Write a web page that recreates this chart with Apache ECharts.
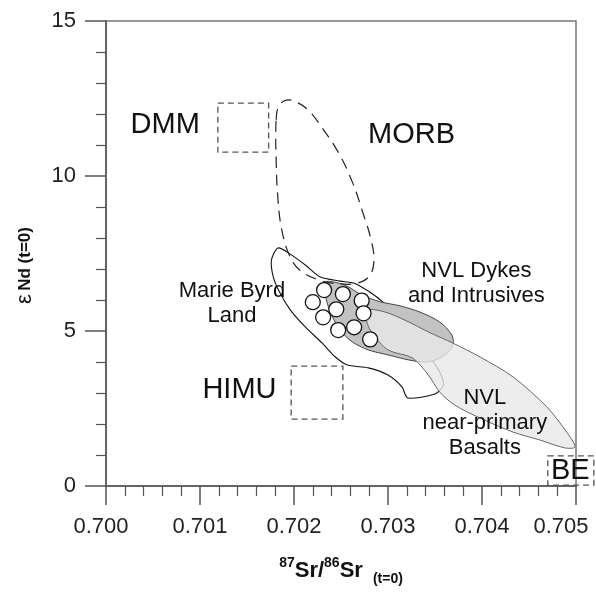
<!DOCTYPE html>
<html>
<head>
<meta charset="utf-8">
<script src="https://cdn.jsdelivr.net/npm/echarts@6/dist/echarts.min.js"></script>
<style>
  html, body { margin: 0; padding: 0; background: #fff; }
  #chart { width: 596px; height: 593px; }
</style>
</head>
<body>
<div id="chart"></div>
<script>
// NVL samples: [87Sr/86Sr, eNd]
const nvlSamples = [
  [0.70232, 6.32], [0.70252, 6.19], [0.70220, 5.93], [0.70272, 5.98], [0.70245, 5.70],
  [0.70231, 5.44], [0.70274, 5.57], [0.70247, 5.03], [0.70264, 5.12], [0.70281, 4.73]
]

// field outlines
const morbField = [
  [0.70181, 11.81], [0.70184, 12.26], [0.70192, 12.45], [0.70202, 12.39], [0.70215, 12.13],
  [0.70230, 11.55], [0.70247, 10.77], [0.70262, 9.81], [0.70273, 8.84], [0.70282, 7.94],
  [0.70285, 7.23], [0.70280, 6.77], [0.70268, 6.55], [0.70249, 6.52], [0.70226, 6.65],
  [0.70206, 6.97], [0.70195, 7.45], [0.70187, 8.26], [0.70183, 9.23], [0.70181, 10.52]
]
const marieByrdField = [
  [0.70183, 7.68], [0.70196, 7.48], [0.70212, 7.13], [0.70228, 6.74], [0.70249, 6.61],
  [0.70266, 6.52], [0.70292, 6.00], [0.70318, 5.19], [0.70339, 4.39], [0.70355, 3.68],
  [0.70359, 3.26], [0.70350, 2.97], [0.70321, 2.84], [0.70315, 3.19], [0.70300, 3.58],
  [0.70279, 3.81], [0.70257, 3.90], [0.70244, 4.16], [0.70230, 4.61], [0.70212, 5.13],
  [0.70196, 5.68], [0.70185, 6.23], [0.70178, 6.74], [0.70176, 7.29]
]
const dykesField = [
  [0.70233, 6.58], [0.70254, 6.48], [0.70272, 6.16], [0.70292, 5.94], [0.70313, 5.81],
  [0.70334, 5.61], [0.70355, 5.29], [0.70368, 4.87], [0.70369, 4.55], [0.70361, 4.23],
  [0.70343, 4.00], [0.70323, 4.06], [0.70300, 4.23], [0.70279, 4.39], [0.70262, 4.65],
  [0.70249, 5.03], [0.70240, 5.52], [0.70234, 6.06]
]
const basaltField = [
  [0.70278, 5.68], [0.70297, 5.61], [0.70318, 5.35], [0.70345, 4.94], [0.70369, 4.61],
  [0.70398, 4.16], [0.70433, 3.52], [0.70469, 2.55], [0.70490, 1.74], [0.70499, 1.26],
  [0.70488, 1.23], [0.70462, 1.48], [0.70433, 1.74], [0.70398, 2.19], [0.70371, 2.61],
  [0.70355, 3.03], [0.70343, 3.58], [0.70326, 4.13], [0.70300, 4.39], [0.70283, 4.94],
  [0.70277, 5.35]
]

// end-member boxes: [xMin, yMin, xMax, yMax]
const endMemberBoxes = [
  [0.70119, 10.77, 0.70173, 12.35],
  [0.70197, 2.16, 0.70252, 3.87],
  [0.70470, 0.03, 0.70519, 0.97]
]

// labels: [text, x, y]
const bigLabels = [
  ['DMM', 0.70063, 11.65],
  ['MORB', 0.70325, 11.32],
  ['HIMU', 0.70142, 3.10],
  ['BE', 0.70494, 0.48]
]
const smallLabels = [
  ['Marie Byrd\nLand', 0.70134, 5.90],
  ['NVL Dykes\nand Intrusives', 0.70394, 6.52],
  ['NVL\nnear-primary\nBasalts', 0.70403, 2.03]
]

const font = 'Liberation Sans, Arial, sans-serif'

function fieldSeries(pts, style, smooth, z) {
  return {
    type: 'custom',
    coordinateSystem: 'cartesian2d',
    silent: true,
    z: z,
    data: pts,
    encode: { x: 0, y: 1 },
    renderItem: function (params, api) {
      if (params.dataIndex !== 0) return
      return {
        type: 'polygon',
        shape: { points: pts.map(p => api.coord(p)), smooth: smooth },
        style: style
      }
    }
  }
}

function labelSeries(list, size, lineHeight) {
  return {
    type: 'scatter',
    symbolSize: 0,
    silent: true,
    z: 10,
    itemStyle: { opacity: 1 },
    data: list.map(l => ({ name: l[0], value: [l[1], l[2]] })),
    label: {
      show: true,
      position: 'inside',
      formatter: '{b}',
      fontFamily: font,
      fontSize: size,
      lineHeight: lineHeight,
      color: '#111',
      opacity: 1,
      align: 'center'
    }
  }
}

const chart = echarts.init(document.getElementById('chart'))

chart.setOption({
  animation: false,
  grid: {
    left: 106,
    right: 20,
    top: 21,
    bottom: 107,
    show: true,
    borderColor: '#777',
    borderWidth: 1.5,
    outerBoundsMode: 'none'
  },
  xAxis: {
    type: 'value',
    min: 0.700,
    max: 0.705,
    interval: 0.001,
    name: '{sup|87}{b|Sr/}{sup|86}{b|Sr}{sub|(t=0)}',
    nameLocation: 'middle',
    nameGap: 70,
    nameTextStyle: {
      rich: {
        b: { fontFamily: font, fontWeight: 'bold', fontSize: 22, color: '#111', lineHeight: 30 },
        sup: { fontFamily: font, fontWeight: 'bold', fontSize: 14, color: '#111', verticalAlign: 'top', lineHeight: 30 },
        sub: { fontFamily: font, fontWeight: 'bold', fontSize: 14, color: '#111', verticalAlign: 'bottom', lineHeight: 26, padding: [0, 0, 0, 10] }
      }
    },
    axisLine: { lineStyle: { color: '#555', width: 1.5 } },
    axisTick: { length: 19, lineStyle: { color: '#555', width: 1.5 } },
    minorTick: { show: true, splitNumber: 5, length: 10, lineStyle: { color: '#555', width: 1.2 } },
    splitLine: { show: false },
    axisLabel: {
      margin: 30,
      fontFamily: font,
      fontSize: 22,
      color: '#222',
      formatter: function (v) {
        const s = v.toFixed(3)
        if (s === '0.705') return '{last|' + s + '}'
        if (s === '0.700') return '{first|' + s + '}'
        return s
      },
      rich: {
        last: { fontFamily: font, fontSize: 22, color: '#222', padding: [0, 30, 0, 0] },
        first: { fontFamily: font, fontSize: 22, color: '#222', padding: [0, 10, 0, 0] }
      }
    }
  },
  yAxis: {
    type: 'value',
    min: 0,
    max: 15,
    interval: 5,
    name: '{e|ε} {b|Nd (t=0)}',
    nameLocation: 'middle',
    nameGap: 70,
    nameTextStyle: {
      padding: [0, 24, 0, 0],
      rich: {
        e: { fontFamily: font, fontSize: 22, color: '#111' },
        b: { fontFamily: font, fontWeight: 'bold', fontSize: 17, color: '#111' }
      }
    },
    axisLine: { lineStyle: { color: '#555', width: 1.5 } },
    axisTick: { length: 21, lineStyle: { color: '#555', width: 1.5 } },
    minorTick: { show: true, splitNumber: 5, length: 10, lineStyle: { color: '#555', width: 1.2 } },
    splitLine: { show: false },
    axisLabel: {
      margin: 30,
      fontFamily: font,
      fontSize: 22,
      color: '#222'
    }
  },
  series: [
    fieldSeries(marieByrdField, { fill: '#fff', stroke: '#111', lineWidth: 1.1 }, 0.25, 2),
    fieldSeries(dykesField, { fill: '#c2c2c2', stroke: '#444', lineWidth: 1 }, 0.3, 3),
    fieldSeries(basaltField, { fill: 'rgba(232,232,232,0.8)', stroke: '#666', lineWidth: 1 }, 0.3, 4),
    fieldSeries(morbField, { fill: 'none', stroke: '#222', lineWidth: 1.2, lineDash: [11, 7] }, 0.4, 5),
    {
      type: 'custom',
      coordinateSystem: 'cartesian2d',
      silent: true,
      z: 5,
      data: endMemberBoxes,
      encode: { x: [0, 2], y: [1, 3] },
      renderItem: function (params, api) {
        const p0 = api.coord([api.value(0), api.value(3)])
        const p1 = api.coord([api.value(2), api.value(1)])
        return {
          type: 'rect',
          shape: { x: p0[0], y: p0[1], width: p1[0] - p0[0], height: p1[1] - p0[1] },
          style: { fill: 'none', stroke: '#555', lineWidth: 1.3, lineDash: [6, 4] }
        }
      }
    },
    {
      type: 'scatter',
      z: 8,
      symbol: 'circle',
      symbolSize: 15,
      data: nvlSamples,
      itemStyle: { color: '#fff', borderColor: '#111', borderWidth: 1.3, opacity: 1 }
    },
    labelSeries(bigLabels, 29, 32),
    labelSeries(smallLabels, 22, 25)
  ]
})
</script>
</body>
</html>
